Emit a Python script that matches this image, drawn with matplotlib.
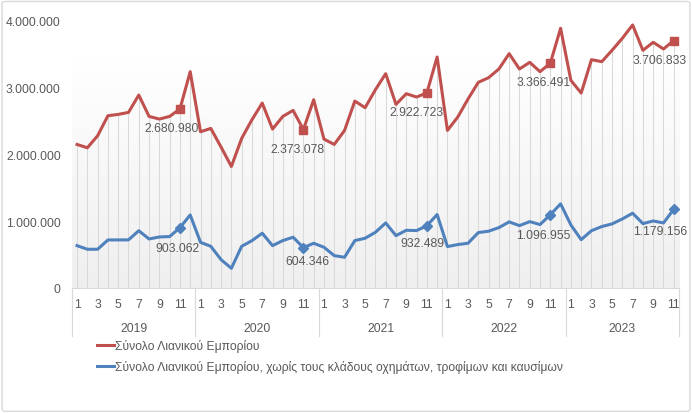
import matplotlib
matplotlib.use('Agg')
import matplotlib.pyplot as plt
from matplotlib.patches import FancyBboxPatch
import numpy as np

# monthly data, Jan 2019 - Nov 2023
years = ['2019', '2020', '2021', '2022', '2023']
months = [m for y in years for m in range(1, 13)][:59]

total = [2150000, 2100000, 2280000, 2580000, 2600000, 2630000, 2890000, 2570000, 2530000, 2570000, 2680980, 3240000,
         2340000, 2390000, 2110000, 1820000, 2240000, 2520000, 2770000, 2380000, 2570000, 2660000, 2373078, 2820000,
         2230000, 2150000, 2360000, 2800000, 2700000, 2970000, 3210000, 2750000, 2910000, 2860000, 2922723, 3460000,
         2360000, 2560000, 2830000, 3080000, 3150000, 3280000, 3510000, 3280000, 3380000, 3240000, 3366491, 3890000,
         3110000, 2920000, 3420000, 3390000, 3560000, 3740000, 3940000, 3560000, 3680000, 3580000, 3706833]

core = [634000, 580000, 580000, 719000, 720000, 720000, 858000, 734000, 764000, 770000, 903062, 1094000,
        684000, 624000, 424000, 295000, 624000, 709000, 820000, 634000, 710000, 760000, 604346, 670000,
        610000, 484000, 460000, 710000, 745000, 834000, 974000, 784000, 864000, 860000, 932489, 1100000,
        620000, 650000, 670000, 830000, 850000, 904000, 990000, 934000, 994000, 950000, 1096955, 1260000,
        944000, 724000, 858000, 920000, 960000, 1034000, 1120000, 964000, 1004000, 974000, 1179156]

labels = ['Σύνολο Λιανικού Εμπορίου',
          'Σύνολο Λιανικού Εμπορίου, χωρίς τους κλάδους οχημάτων, τροφίμων και καυσίμων']

plt.rcParams['font.family'] = ['Liberation Sans', 'DejaVu Sans']

def fmt(v):
    return '{:,}'.format(int(v)).replace(',', '.')

red = '#c0504d'
blue = '#4f81bd'
grey_txt = '#595959'
fs = 8.7

fig = plt.figure(figsize=(6.92, 4.14), dpi=100)
ax = fig.add_axes([0.1039, 0.302, 0.8772, 0.645])

x = np.arange(len(total))

# gradient background of plot area
grad = np.linspace(0, 1, 256).reshape(-1, 1)
cmap = matplotlib.colors.LinearSegmentedColormap.from_list('g', ['#efefef', '#ffffff'])
ax.imshow(grad, extent=(-0.5, 58.5, 0, 3460000), aspect='auto', cmap=cmap, origin='lower', zorder=0)

# drop lines
ax.vlines(x, 0, total, color='#d9d9d9', lw=0.75, zorder=1)

l1, = ax.plot(x, total, color=red, lw=2.2, zorder=3, label=labels[0])
l2, = ax.plot(x, core, color=blue, lw=2.2, zorder=3, label=labels[1])

nov = [i for i in x if months[i] == 11]
ax.plot(nov, [total[i] for i in nov], ls='none', marker='s', ms=6, color=red, zorder=4)
ax.plot(nov, [core[i] for i in nov], ls='none', marker='D', ms=5.5, color=blue, zorder=4)

red_off = [(-8, -19), (-6, -19), (-10, -19), (-7, -19), (-14, -19)]
blue_off = [(-2, -20), (4, -13), (-4, -17), (-7, -20), (-14, -22)]
for k, i in enumerate(nov):
    ax.annotate(fmt(total[i]), (i, total[i]), xytext=red_off[k], textcoords='offset pixels',
                ha='center', va='center', fontsize=fs, color=grey_txt, zorder=5)
    ax.annotate(fmt(core[i]), (i, core[i]), xytext=blue_off[k], textcoords='offset pixels',
                ha='center', va='center', fontsize=fs, color=grey_txt, zorder=5)

ax.set_xlim(-0.5, 58.5)
ax.set_ylim(0, 4000000)
ax.set_yticks([0, 1000000, 2000000, 3000000, 4000000])
ax.set_yticklabels([fmt(v) for v in ax.get_yticks()])
ax.tick_params(axis='y', length=0, pad=8, labelsize=fs, labelcolor=grey_txt)
ax.set_xticks([])
for s in ['top', 'right', 'left']:
    ax.spines[s].set_visible(False)
ax.spines['bottom'].set_color('#d9d9d9')

# two-level category axis
tr = ax.get_xaxis_transform()
for i in x:
    if months[i] % 2 == 1:
        ax.text(i, -0.06, str(months[i]), transform=tr, ha='center', va='center',
                fontsize=fs, color=grey_txt)
for k, yr in enumerate(years):
    start = k * 12 - 0.5
    end = min(start + 12, 58.5)
    ax.text((start + end) / 2, -0.15, yr, transform=tr, ha='center', va='center',
            fontsize=fs, color=grey_txt)
for b in [-0.5, 11.5, 23.5, 35.5, 47.5, 58.5]:
    ax.plot([b, b], [0, -0.178], transform=tr, color='#d9d9d9', lw=0.8, clip_on=False)

fig.legend(handles=[l1, l2], loc='upper left', bbox_to_anchor=(0.140, 0.1787), frameon=False,
           fontsize=fs, handlelength=1.4, handletextpad=0.1, labelspacing=0.65,
           borderpad=0, borderaxespad=0, labelcolor=grey_txt)

# chart border
fig.patches.append(FancyBboxPatch((0.003, 0.004), 0.994, 0.99, boxstyle='round,pad=0,rounding_size=0.005',
                                  transform=fig.transFigure, fill=False, edgecolor='#d9d9d9', lw=1))

fig.savefig('out.png', dpi=100)
